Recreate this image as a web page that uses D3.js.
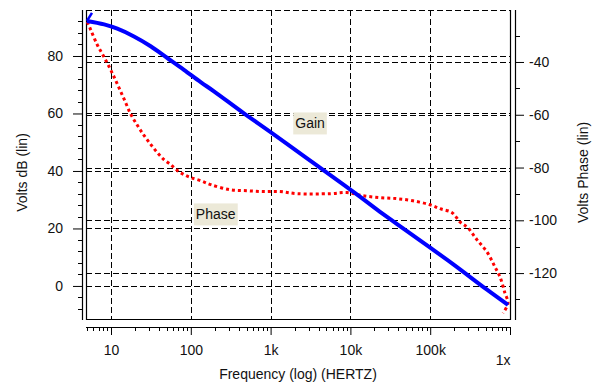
<!DOCTYPE html>
<html>
<head>
<meta charset="utf-8">
<script src="https://cdn.jsdelivr.net/npm/d3@7"></script>
<style>
  body { margin: 0; background: #fff; }
  text { font-family: "Liberation Sans", Arial, sans-serif; font-size: 14px; fill: #111; }
</style>
</head>
<body>
<div class="chart"></div>
<script>
// gain curve (blue)
let gainFreq = [5.0, 8.2, 12, 19.4, 31.4, 50.8, 82, 133, 195, 450, 1000, 2860, 4540, 10800, 23500, 38400, 60800, 100000, 193000, 515000, 944000]
let gainDb   = [92.2, 91.0, 89.5, 86.8, 83.4, 79.3, 75.2, 70.9, 67.7, 60.3, 53.5, 44.4, 40.4, 32.8, 25.8, 21.5, 17.6, 13.3, 7.6, -1.3, -6.6]

// phase curve (red dotted)
let phaseFreq = [5.05, 5.57, 6.73, 8.17, 9.91, 12.0, 14.6, 17.7, 21.4, 25.9, 31.4, 38.0, 46.1, 56.0, 67.8, 82.2, 99.7, 133, 178, 310, 506, 803, 1310, 2140, 5550, 9060, 14400, 23500, 38400, 60800, 99300, 133000, 188000, 236000, 298000, 386000, 515000, 649000, 750000, 865000, 944000, 817000]
let phaseDeg  = [-24.8, -27.8, -33.5, -38.1, -43.0, -48.4, -54.1, -59.8, -64.0, -67.8, -71.2, -74.3, -77.0, -78.9, -81.1, -82.7, -83.8, -85.0, -86.5, -88.4, -88.8, -89.1, -89.1, -89.9, -89.9, -89.5, -90.7, -91.4, -91.8, -92.6, -94.1, -95.6, -97.1, -100.6, -102.9, -107.4, -112.0, -117.7, -121.5, -127.6, -131.4, -135.2]

let xTickVals = [10, 100, 1000, 10000, 100000, 1000000]
let xTickText = ["10", "100", "1k", "10k", "100k", "1x"]
let leftTicks = [0, 20, 40, 60, 80]
let rightTicks = [-40, -60, -80, -100, -120]

let W = 597, H = 386
let plot = { left: 86, right: 510, top: 10, bottom: 319 }

let svg = d3.select('.chart').append('svg')
  .attr('width', W).attr('height', H)

let x = d3.scaleLog().domain([4.86, 1e6]).range([plot.left, plot.right])
let yL = d3.scaleLinear().domain([-11.5, 96]).range([plot.bottom, plot.top])
let yR = d3.scaleLinear().domain([-137.4, -20.3]).range([plot.bottom, plot.top])

let dash = '6,3'

// horizontal grid, both axes
let grid = svg.append('g').attr('stroke', '#000').attr('stroke-width', 1).attr('stroke-dasharray', dash)
leftTicks.forEach(v => {
  grid.append('line').attr('x1', plot.left).attr('x2', plot.right)
    .attr('y1', Math.round(yL(v)) + 0.5).attr('y2', Math.round(yL(v)) + 0.5)
})
rightTicks.forEach(v => {
  grid.append('line').attr('x1', plot.left).attr('x2', plot.right)
    .attr('y1', Math.round(yR(v)) + 0.5).attr('y2', Math.round(yR(v)) + 0.5)
})
xTickVals.slice(0, -1).forEach(v => {
  grid.append('line').attr('y1', plot.top).attr('y2', plot.bottom)
    .attr('x1', Math.round(x(v)) + 0.5).attr('x2', Math.round(x(v)) + 0.5)
})
// dashed top edge
grid.append('line').attr('x1', plot.left).attr('x2', plot.right)
  .attr('y1', plot.top + 0.5).attr('y2', plot.top + 0.5)

// solid frame: left, right, bottom
svg.append('path')
  .attr('d', `M${plot.left + 0.5},${plot.top}V${plot.bottom + 0.5}H${plot.right + 0.5}V${plot.top}`)
  .attr('fill', 'none').attr('stroke', '#000').attr('stroke-width', 1.2)

// left axis
let leftAxis = d3.axisLeft(yL).tickValues(leftTicks).tickSize(9).tickPadding(10)
let gL = svg.append('g').attr('transform', 'translate(82,0)').call(leftAxis)
gL.select('.domain').attr('d', `M0.5,${plot.top}V${plot.bottom + 1}`)
gL.append('g').selectAll('line')
  .data(d3.range(-8, 96, 4).filter(v => v % 20 !== 0))
  .enter().append('line')
    .attr('x1', -4).attr('x2', 0)
    .attr('y1', d => Math.round(yL(d)) + 0.5).attr('y2', d => Math.round(yL(d)) + 0.5)
    .attr('stroke', '#000')

// right axis
let rightAxis = d3.axisRight(yR).tickValues(rightTicks).tickSize(9).tickPadding(5)
  .tickFormat(d => '-' + Math.abs(d))
let gR = svg.append('g').attr('transform', 'translate(515,0)').call(rightAxis)
gR.select('.domain').attr('d', `M0.5,${plot.top}V${plot.bottom + 1}`)
gR.append('g').selectAll('line')
  .data(d3.range(-130, -20, 10).filter(v => v % 20 !== 0))
  .enter().append('line')
    .attr('x1', 0).attr('x2', 5)
    .attr('y1', d => Math.round(yR(d)) + 0.5).attr('y2', d => Math.round(yR(d)) + 0.5)
    .attr('stroke', '#000')

// bottom axis
let bottomAxis = d3.axisBottom(x).tickValues(xTickVals).tickSize(8).tickPadding(10)
  .tickFormat((d, i) => xTickText[i])
let gB = svg.append('g').attr('transform', 'translate(0,327)').call(bottomAxis)
gB.select('.domain').attr('d', `M${plot.left},0.5H${plot.right + 1}`)
gB.selectAll('.tick').filter(d => d === 1e6).select('text')
  .attr('text-anchor', 'end').attr('dx', 0).attr('y', 28)
let minorX = []
for (let e = 0; e < 6; e++) for (let m = 2; m < 10; m++) {
  let f = m * Math.pow(10, e)
  if (f >= 4.86 && f < 1e6) minorX.push(f)
}
gB.append('g').selectAll('line').data(minorX).enter().append('line')
  .attr('x1', d => Math.round(x(d)) + 0.5).attr('x2', d => Math.round(x(d)) + 0.5)
  .attr('y1', 0).attr('y2', 4).attr('stroke', '#000')

svg.selectAll('.tick text').style('font-size', '14px').attr('fill', '#111')
svg.selectAll('.tick line').attr('stroke', '#000')
svg.selectAll('.domain').attr('stroke', '#000').attr('stroke-width', 1.2)

// curves
let gainLine = d3.line().x(d => x(d[0])).y(d => yL(d[1])).curve(d3.curveCatmullRom)
let phaseLine = d3.line().x(d => x(d[0])).y(d => yR(d[1])).curve(d3.curveCatmullRom)

svg.append('path')
  .datum(phaseFreq.map((f, i) => [f, phaseDeg[i]]))
  .attr('d', phaseLine)
  .attr('fill', 'none').attr('stroke', '#ff0000').attr('stroke-width', 3)
  .attr('stroke-dasharray', '3,3')

svg.append('path')
  .datum(gainFreq.map((f, i) => [f, gainDb[i]]))
  .attr('d', gainLine)
  .attr('fill', 'none').attr('stroke', '#0000ff').attr('stroke-width', 4)

// little start marker on the gain trace
let x0 = x(gainFreq[0]), y0 = yL(gainDb[0])
svg.append('path')
  .attr('d', `M${x0},${y0}L${x0 + 5},${y0 - 8}`)
  .attr('fill', 'none').attr('stroke', '#0000ff').attr('stroke-width', 2.5)

// curve labels
function tag(txt, f, yv, scale) {
  let g = svg.append('g').attr('transform', `translate(${x(f)},${scale(yv)})`)
  let t = g.append('text').attr('text-anchor', 'middle').attr('dy', '0.35em').text(txt)
  let bb = t.node().getBBox()
  g.insert('rect', 'text')
    .attr('x', bb.x - 2).attr('y', bb.y - 3)
    .attr('width', bb.width + 4).attr('height', bb.height + 6)
    .attr('fill', '#ece9d8')
}
tag('Gain', 3120, 56.5, yL)
tag('Phase', 205, -97.8, yR)

// axis titles
svg.append('text')
  .attr('transform', `translate(27,${(plot.top + plot.bottom) / 2 + 8}) rotate(-90)`)
  .attr('text-anchor', 'middle').text('Volts dB (lin)')
svg.append('text')
  .attr('transform', `translate(588,${(plot.top + plot.bottom) / 2 + 8}) rotate(-90)`)
  .attr('text-anchor', 'middle').text('Volts Phase (lin)')
svg.append('text')
  .attr('x', (plot.left + plot.right) / 2).attr('y', 379)
  .attr('text-anchor', 'middle').text('Frequency (log) (HERTZ)')
</script>
</body>
</html>
